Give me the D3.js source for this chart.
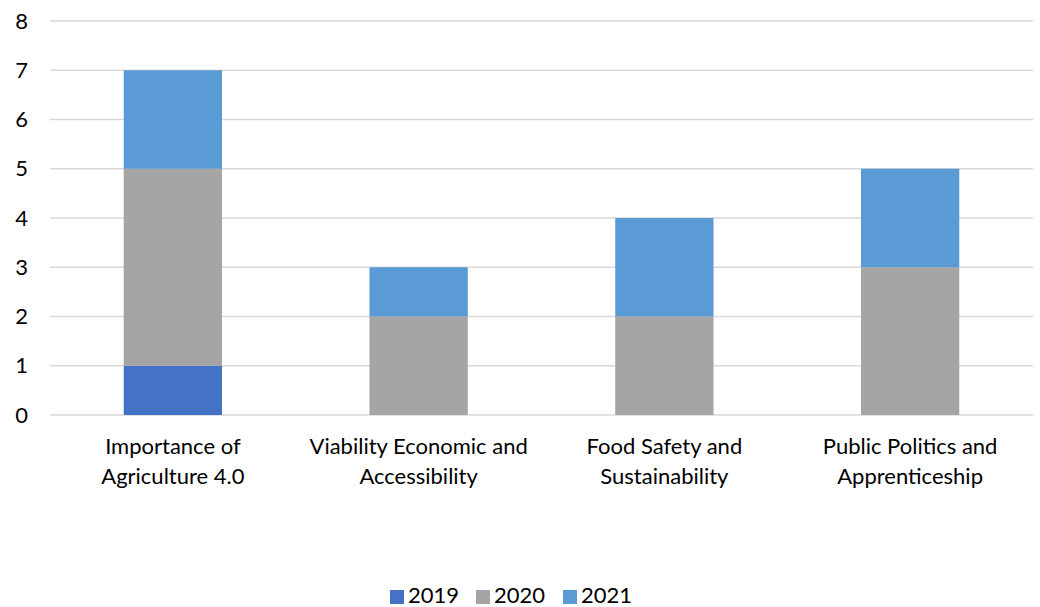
<!DOCTYPE html>
<html>
<head>
<meta charset="utf-8">
<script src="https://cdn.jsdelivr.net/npm/d3@7"></script>
<style>
  html, body { margin: 0; padding: 0; background: #fff; }
  svg { display: block; font-family: Lato, "Open Sans", sans-serif; }
</style>
</head>
<body>
<div id="chart"></div>
<script>
// ── Data ──
const categories = [
  ["Importance of", "Agriculture 4.0"],
  ["Viability Economic and", "Accessibility"],
  ["Food Safety and", "Sustainability"],
  ["Public Politics and", "Apprenticeship"]
];
const years = ["2019", "2020", "2021"];
const values2019 = [1, 0, 0, 0];
const values2020 = [4, 2, 2, 3];
const values2021 = [2, 1, 2, 2];
const yTicks = [0, 1, 2, 3, 4, 5, 6, 7, 8];

const COLORS = { "2019": "#4472C4", "2020": "#A5A5A5", "2021": "#5B9BD5" };

// ── Dimensions ──
const fullWidth = 1040, fullHeight = 607;
const margin = { top: 21, right: 7, bottom: 192, left: 50 };
const width = fullWidth - margin.left - margin.right;
const height = fullHeight - margin.top - margin.bottom;
const fontSize = 22;

const rows = categories.map((c, i) => ({
  key: i,
  "2019": values2019[i],
  "2020": values2020[i],
  "2021": values2021[i]
}));

const svg = d3.select("#chart").append("svg")
  .attr("width", fullWidth)
  .attr("height", fullHeight);

const g = svg.append("g")
  .attr("transform", `translate(${margin.left},${margin.top})`);

// ── Scales ──
const x = d3.scaleBand()
  .domain(rows.map(d => d.key))
  .range([0, width])
  .paddingInner(0.6)
  .paddingOuter(0.3);

const y = d3.scaleLinear().domain([0, 8]).range([height, 0]);

// ── Gridlines ──
g.append("g")
  .selectAll("line")
  .data(yTicks)
  .join("line")
  .attr("x1", 0).attr("x2", width)
  .attr("y1", d => y(d)).attr("y2", d => y(d))
  .attr("stroke", "#D9D9D9").attr("stroke-width", 1.3);

// ── Y axis labels ──
const yAxis = g.append("g")
  .call(d3.axisLeft(y).tickValues(yTicks).tickSize(0).tickPadding(22));
yAxis.select(".domain").remove();
yAxis.selectAll("text")
  .attr("font-size", fontSize)
  .attr("font-family", "Lato, 'Open Sans', sans-serif")
  .attr("fill", "#000");

// ── Stacked bars ──
const series = d3.stack().keys(years)(rows);

g.append("g")
  .selectAll("g")
  .data(series)
  .join("g")
  .attr("fill", s => COLORS[s.key])
  .selectAll("rect")
  .data(s => s)
  .join("rect")
  .attr("x", d => x(d.data.key))
  .attr("width", x.bandwidth())
  .attr("y", d => y(d[1]))
  .attr("height", d => y(d[0]) - y(d[1]));

// ── Category labels ──
const xLab = g.append("g")
  .attr("transform", `translate(0,${height})`)
  .selectAll("text")
  .data(rows)
  .join("text")
  .attr("x", d => x(d.key) + x.bandwidth() / 2)
  .attr("y", 39)
  .attr("text-anchor", "middle")
  .attr("font-size", fontSize)
  .attr("fill", "#000");

xLab.selectAll("tspan")
  .data(d => categories[d.key])
  .join("tspan")
  .attr("x", function () { return d3.select(this.parentNode).attr("x"); })
  .attr("dy", (d, i) => i === 0 ? 0 : 30)
  .text(d => d);

// ── Legend ──
const legendX = [390, 476, 563];
const legend = svg.append("g")
  .selectAll("g")
  .data(years)
  .join("g")
  .attr("transform", (d, i) => `translate(${legendX[i]},588)`);

legend.append("rect")
  .attr("y", 2)
  .attr("width", 14).attr("height", 14)
  .attr("fill", d => COLORS[d]);

legend.append("text")
  .attr("x", 18).attr("y", 15)
  .attr("font-size", fontSize)
  .attr("fill", "#000")
  .text(d => d);
</script>
</body>
</html>
